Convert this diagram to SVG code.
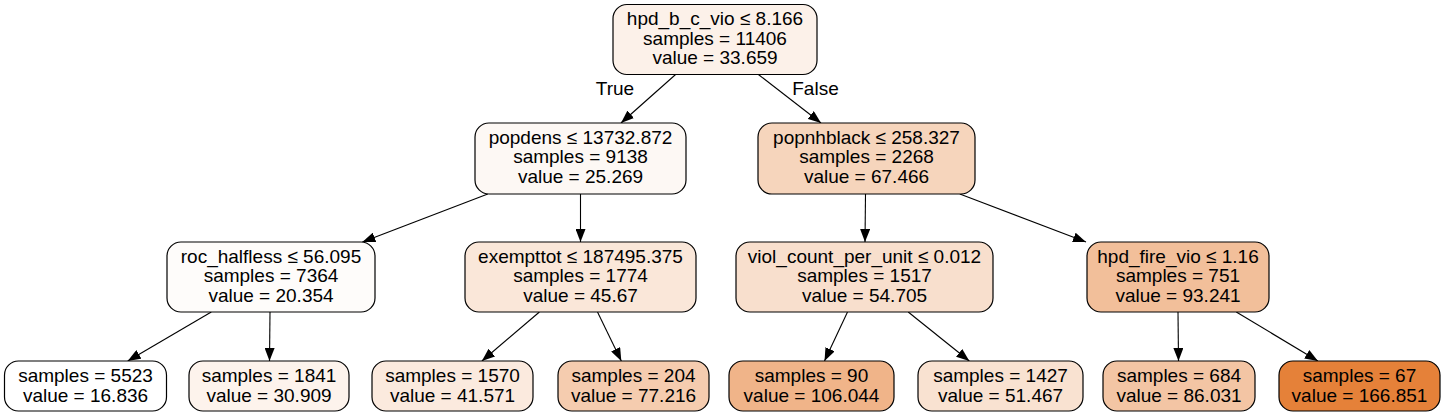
<svg xmlns="http://www.w3.org/2000/svg" width="1445" height="417" viewBox="0 0 1445 417">
<style>
.n{stroke:#000;stroke-width:1.2}
text{font-family:"Liberation Sans",Arial,sans-serif;font-size:19px;fill:#000;text-anchor:middle}
.e{stroke:#000;stroke-width:1.1;fill:none;marker-end:url(#ah)}
</style>
<defs>
<marker id="ah" markerUnits="userSpaceOnUse" markerWidth="13" markerHeight="10" refX="13" refY="5" orient="auto">
<path d="M0,0 L13,5 L0,10 Z" fill="#000"/>
</marker>
</defs>
<rect width="1445" height="417" fill="#fff"/>
<g id="edges">
<line class="e" x1="675.6" y1="74.5" x2="621" y2="123"/>
<line class="e" x1="758.4" y1="74.5" x2="821" y2="123"/>
<text x="615" y="95">True</text>
<text x="815.5" y="95">False</text>
<line class="e" x1="487.8" y1="194" x2="362.4" y2="242"/>
<line class="e" x1="580.5" y1="194" x2="580.5" y2="242"/>
<line class="e" x1="865.5" y1="194" x2="865" y2="242"/>
<line class="e" x1="959.8" y1="194" x2="1086" y2="242"/>
<line class="e" x1="211.3" y1="312" x2="127.7" y2="361"/>
<line class="e" x1="270" y1="312" x2="269.5" y2="361"/>
<line class="e" x1="539.4" y1="312" x2="481.9" y2="361"/>
<line class="e" x1="597.5" y1="312" x2="621.3" y2="361"/>
<line class="e" x1="847.5" y1="312" x2="824.5" y2="361"/>
<line class="e" x1="908.2" y1="312" x2="969.3" y2="361"/>
<line class="e" x1="1178" y1="312" x2="1178.5" y2="361"/>
<line class="e" x1="1236.3" y1="312" x2="1317.9" y2="361"/>
</g>
<g id="n0"><rect class="n" x="613" y="4.5" width="204" height="70" rx="14" fill="#fcf1e9"/>
<text x="715" y="25">hpd_b_c_vio ≤ 8.166</text><text x="715" y="44.5">samples = 11406</text><text x="715" y="64">value = 33.659</text></g>
<g id="n1"><rect class="n" x="475" y="123" width="211" height="71" rx="14" fill="#fdf8f4"/>
<text x="580.5" y="143.5">popdens ≤ 13732.872</text><text x="580.5" y="163">samples = 9138</text><text x="580.5" y="182.5">value = 25.269</text></g>
<g id="n8"><rect class="n" x="758" y="123" width="217" height="71" rx="14" fill="#f6d5bc"/>
<text x="866.5" y="143.5">popnhblack ≤ 258.327</text><text x="866.5" y="163">samples = 2268</text><text x="866.5" y="182.5">value = 67.466</text></g>
<g id="n2"><rect class="n" x="167" y="242" width="208" height="70" rx="14" fill="#fefcfa"/>
<text x="271" y="262.5">roc_halfless ≤ 56.095</text><text x="271" y="282">samples = 7364</text><text x="271" y="301.5">value = 20.354</text></g>
<g id="n5"><rect class="n" x="465" y="242" width="231" height="70" rx="14" fill="#fae7d9"/>
<text x="580.5" y="262.5">exempttot ≤ 187495.375</text><text x="580.5" y="282">samples = 1774</text><text x="580.5" y="301.5">value = 45.67</text></g>
<g id="n9"><rect class="n" x="736" y="242" width="257" height="70" rx="14" fill="#f8dfcd"/>
<text x="864.5" y="262.5">viol_count_per_unit ≤ 0.012</text><text x="864.5" y="282">samples = 1517</text><text x="864.5" y="301.5">value = 54.705</text></g>
<g id="n12"><rect class="n" x="1087" y="242" width="182" height="70" rx="14" fill="#f2bf9a"/>
<text x="1178" y="262.5">hpd_fire_vio ≤ 1.16</text><text x="1178" y="282">samples = 751</text><text x="1178" y="301.5">value = 93.241</text></g>
<g id="n3"><rect class="n" x="4.5" y="361" width="162" height="50" rx="14" fill="#ffffff"/>
<text x="85.5" y="382">samples = 5523</text><text x="85.5" y="402">value = 16.836</text></g>
<g id="n4"><rect class="n" x="189" y="361" width="160" height="50" rx="14" fill="#fdf3ec"/>
<text x="269" y="382">samples = 1841</text><text x="269" y="402">value = 30.909</text></g>
<g id="n6"><rect class="n" x="372" y="361" width="161" height="50" rx="14" fill="#fbeade"/>
<text x="452.5" y="382">samples = 1570</text><text x="452.5" y="402">value = 41.571</text></g>
<g id="n7"><rect class="n" x="558" y="361" width="151" height="50" rx="14" fill="#f5ccaf"/>
<text x="633.5" y="382">samples = 204</text><text x="633.5" y="402">value = 77.216</text></g>
<g id="n10"><rect class="n" x="729" y="361" width="165" height="50" rx="14" fill="#f0b489"/>
<text x="811.5" y="382">samples = 90</text><text x="811.5" y="402">value = 106.044</text></g>
<g id="n11"><rect class="n" x="918" y="361" width="165" height="50" rx="14" fill="#f9e2d1"/>
<text x="1000.5" y="382">samples = 1427</text><text x="1000.5" y="402">value = 51.467</text></g>
<g id="n13"><rect class="n" x="1103" y="361" width="152" height="50" rx="14" fill="#f3c5a4"/>
<text x="1179" y="382">samples = 684</text><text x="1179" y="402">value = 86.031</text></g>
<g id="n14"><rect class="n" x="1279" y="361" width="161" height="50" rx="14" fill="#e58139"/>
<text x="1359.5" y="382">samples = 67</text><text x="1359.5" y="402">value = 166.851</text></g>
</svg>
